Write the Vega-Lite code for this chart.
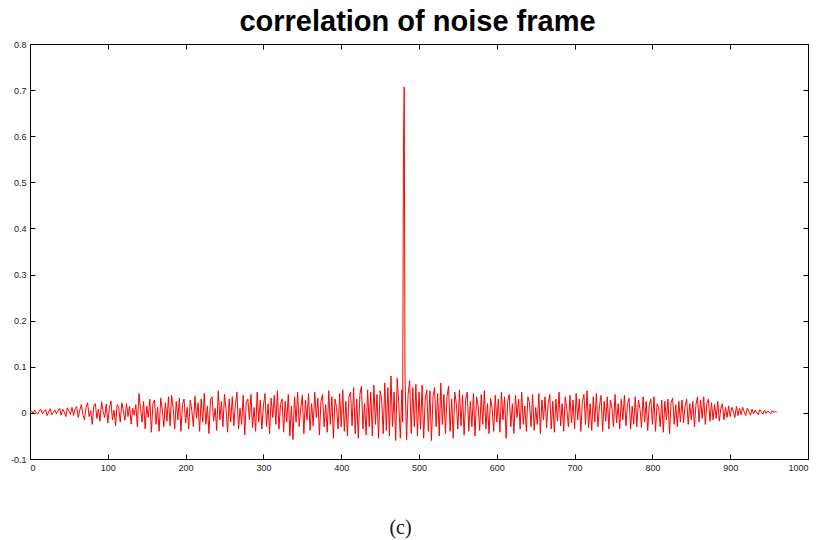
{
  "$schema": "https://vega.github.io/schema/vega-lite/v6.json",
  "width": 778,
  "height": 415,
  "autosize": "none",
  "padding": {"left": 30, "top": 44, "right": 12, "bottom": 81},
  "background": "white",
  "config": {
    "view": {"stroke": null},
    "axis": {"grid": false, "domainColor": "black", "domainWidth": 1, "tickColor": "black", "tickSize": -5, "labelFont": "Liberation Sans", "labelFontSize": 9, "labelColor": "#222", "labelPadding": 9}
  },
  "datasets": {
    "corr": [
{"x":0,"y":0.002},{"x":2,"y":0.004},{"x":4,"y":-0.001},{"x":6,"y":0.006},{"x":8,"y":0.001},{"x":10,"y":-0.003},{"x":12,"y":0.005},{"x":14,"y":0.008},{"x":16,"y":-0.002},{"x":18,"y":0.003},
{"x":20,"y":0.007},{"x":22,"y":-0.006},{"x":24,"y":0.002},{"x":26,"y":0.009},{"x":28,"y":-0.004},{"x":30,"y":0.001},{"x":32,"y":0.006},{"x":34,"y":-0.002},{"x":36,"y":0.004},{"x":38,"y":0.010},
{"x":40,"y":-0.005},{"x":42,"y":0.008},{"x":44,"y":0.002},{"x":46,"y":-0.008},{"x":48,"y":0.011},{"x":50,"y":0.004},{"x":52,"y":-0.003},{"x":54,"y":0.012},{"x":56,"y":-0.006},{"x":58,"y":0.009},
{"x":60,"y":0.014},{"x":62,"y":-0.010},{"x":64,"y":0.006},{"x":66,"y":0.018},{"x":68,"y":-0.004},{"x":70,"y":-0.015},{"x":72,"y":0.012},{"x":74,"y":0.022},{"x":76,"y":-0.008},{"x":78,"y":0.005},
{"x":80,"y":-0.025},{"x":82,"y":0.015},{"x":84,"y":0.020},{"x":86,"y":-0.012},{"x":88,"y":0.008},{"x":90,"y":-0.018},{"x":92,"y":0.024},{"x":94,"y":0.003},{"x":96,"y":-0.010},{"x":98,"y":0.019},
{"x":100,"y":-0.022},{"x":102,"y":0.010},{"x":104,"y":0.026},{"x":106,"y":-0.015},{"x":108,"y":0.006},{"x":110,"y":-0.028},{"x":112,"y":0.018},{"x":114,"y":0.012},{"x":116,"y":-0.020},{"x":118,"y":0.022},
{"x":120,"y":0.005},{"x":122,"y":-0.016},{"x":124,"y":0.020},{"x":126,"y":-0.008},{"x":128,"y":0.015},{"x":130,"y":-0.024},{"x":132,"y":0.010},{"x":134,"y":-0.005},{"x":136,"y":0.018},{"x":138,"y":-0.030},
{"x":140,"y":0.042},{"x":142,"y":0.010},{"x":144,"y":-0.020},{"x":146,"y":0.025},{"x":148,"y":-0.035},{"x":150,"y":0.015},{"x":152,"y":-0.010},{"x":154,"y":0.030},{"x":156,"y":-0.042},{"x":158,"y":0.020},
{"x":160,"y":0.028},{"x":162,"y":-0.025},{"x":164,"y":0.012},{"x":166,"y":-0.040},{"x":168,"y":0.032},{"x":170,"y":0.008},{"x":172,"y":-0.030},{"x":174,"y":0.022},{"x":176,"y":-0.018},{"x":178,"y":0.035},
{"x":180,"y":-0.028},{"x":182,"y":0.038},{"x":184,"y":0.010},{"x":186,"y":-0.035},{"x":188,"y":0.025},{"x":190,"y":-0.015},{"x":192,"y":0.032},{"x":194,"y":-0.040},{"x":196,"y":0.018},{"x":198,"y":0.030},
{"x":200,"y":-0.022},{"x":202,"y":0.012},{"x":204,"y":-0.035},{"x":206,"y":0.028},{"x":208,"y":0.005},{"x":210,"y":-0.030},{"x":212,"y":0.036},{"x":214,"y":-0.012},{"x":216,"y":0.022},{"x":218,"y":-0.040},
{"x":220,"y":0.030},{"x":222,"y":-0.020},{"x":224,"y":0.042},{"x":226,"y":-0.025},{"x":228,"y":0.015},{"x":230,"y":-0.045},{"x":232,"y":0.028},{"x":234,"y":0.035},{"x":236,"y":-0.018},{"x":238,"y":0.010},
{"x":240,"y":-0.038},{"x":242,"y":0.048},{"x":244,"y":-0.015},{"x":246,"y":0.025},{"x":248,"y":-0.030},{"x":250,"y":0.040},{"x":252,"y":0.008},{"x":254,"y":-0.042},{"x":256,"y":0.030},{"x":258,"y":-0.020},
{"x":260,"y":0.035},{"x":262,"y":-0.028},{"x":264,"y":0.018},{"x":266,"y":0.045},{"x":268,"y":-0.035},{"x":270,"y":0.010},{"x":272,"y":-0.025},{"x":274,"y":0.038},{"x":276,"y":-0.048},{"x":278,"y":0.022},
{"x":280,"y":0.030},{"x":282,"y":-0.015},{"x":284,"y":0.040},{"x":286,"y":-0.032},{"x":288,"y":0.012},{"x":290,"y":-0.040},{"x":292,"y":0.045},{"x":294,"y":-0.020},{"x":296,"y":0.028},{"x":298,"y":-0.035},
{"x":300,"y":0.015},{"x":302,"y":0.042},{"x":304,"y":-0.030},{"x":306,"y":0.020},{"x":308,"y":-0.045},{"x":310,"y":0.032},{"x":312,"y":-0.010},{"x":314,"y":0.038},{"x":316,"y":-0.025},{"x":318,"y":0.048},
{"x":320,"y":-0.035},{"x":322,"y":0.018},{"x":324,"y":0.030},{"x":326,"y":-0.042},{"x":328,"y":0.025},{"x":330,"y":-0.020},{"x":332,"y":0.040},{"x":334,"y":-0.050},{"x":336,"y":0.015},{"x":338,"y":-0.058},
{"x":340,"y":0.035},{"x":342,"y":-0.020},{"x":344,"y":0.045},{"x":346,"y":-0.030},{"x":348,"y":0.010},{"x":350,"y":0.038},{"x":352,"y":-0.045},{"x":354,"y":0.028},{"x":356,"y":-0.015},{"x":358,"y":0.042},
{"x":360,"y":-0.038},{"x":362,"y":0.020},{"x":364,"y":-0.028},{"x":366,"y":0.045},{"x":368,"y":-0.010},{"x":370,"y":0.032},{"x":372,"y":-0.048},{"x":374,"y":0.025},{"x":376,"y":0.040},{"x":378,"y":-0.030},
{"x":380,"y":0.018},{"x":382,"y":-0.042},{"x":384,"y":0.048},{"x":386,"y":-0.025},{"x":388,"y":0.035},{"x":390,"y":-0.055},{"x":392,"y":0.030},{"x":394,"y":0.012},{"x":396,"y":-0.035},{"x":398,"y":0.042},
{"x":400,"y":-0.030},{"x":402,"y":0.050},{"x":404,"y":-0.040},{"x":406,"y":0.025},{"x":408,"y":-0.050},{"x":410,"y":0.035},{"x":412,"y":0.045},{"x":414,"y":-0.028},{"x":416,"y":0.055},{"x":418,"y":-0.045},
{"x":420,"y":0.030},{"x":422,"y":-0.055},{"x":424,"y":0.040},{"x":426,"y":0.058},{"x":428,"y":-0.035},{"x":430,"y":0.020},{"x":432,"y":-0.048},{"x":434,"y":0.050},{"x":436,"y":-0.030},{"x":438,"y":0.045},
{"x":440,"y":-0.050},{"x":442,"y":0.060},{"x":444,"y":-0.025},{"x":446,"y":0.040},{"x":448,"y":-0.055},{"x":450,"y":0.048},{"x":452,"y":0.030},{"x":454,"y":-0.045},{"x":456,"y":0.065},{"x":458,"y":-0.038},
{"x":460,"y":0.055},{"x":462,"y":-0.050},{"x":464,"y":0.080},{"x":466,"y":-0.030},{"x":468,"y":0.045},{"x":470,"y":-0.060},{"x":472,"y":0.075},{"x":474,"y":0.020},{"x":476,"y":-0.055},{"x":478,"y":0.050},
{"x":479,"y":-0.020},{"x":480,"y":0.570},{"x":481,"y":0.707},
{"x":482,"y":0.078},{"x":484,"y":-0.058},{"x":486,"y":0.040},{"x":488,"y":0.070},{"x":490,"y":-0.045},{"x":492,"y":0.055},{"x":494,"y":-0.030},{"x":496,"y":0.062},{"x":498,"y":-0.050},
{"x":500,"y":0.045},{"x":502,"y":-0.035},{"x":504,"y":0.060},{"x":506,"y":-0.055},{"x":508,"y":0.030},{"x":510,"y":0.050},{"x":512,"y":-0.040},{"x":514,"y":0.048},{"x":516,"y":-0.060},{"x":518,"y":0.035},
{"x":520,"y":0.055},{"x":522,"y":-0.030},{"x":524,"y":0.042},{"x":526,"y":-0.050},{"x":528,"y":0.065},{"x":530,"y":-0.025},{"x":532,"y":0.040},{"x":534,"y":-0.045},{"x":536,"y":0.035},{"x":538,"y":0.058},
{"x":540,"y":-0.040},{"x":542,"y":0.030},{"x":544,"y":-0.055},{"x":546,"y":0.045},{"x":548,"y":0.020},{"x":550,"y":-0.035},{"x":552,"y":0.050},{"x":554,"y":-0.028},{"x":556,"y":0.038},{"x":558,"y":-0.048},
{"x":560,"y":0.030},{"x":562,"y":0.045},{"x":564,"y":-0.040},{"x":566,"y":0.025},{"x":568,"y":-0.030},{"x":570,"y":0.042},{"x":572,"y":-0.050},{"x":574,"y":0.035},{"x":576,"y":0.015},{"x":578,"y":-0.038},
{"x":580,"y":0.040},{"x":582,"y":-0.025},{"x":584,"y":0.048},{"x":586,"y":-0.035},{"x":588,"y":0.020},{"x":590,"y":-0.045},{"x":592,"y":0.032},{"x":594,"y":0.010},{"x":596,"y":-0.040},{"x":598,"y":0.038},
{"x":600,"y":-0.020},{"x":602,"y":0.030},{"x":604,"y":-0.042},{"x":606,"y":0.045},{"x":608,"y":-0.015},{"x":610,"y":0.035},{"x":612,"y":-0.055},{"x":614,"y":0.025},{"x":616,"y":0.040},{"x":618,"y":-0.030},
{"x":620,"y":0.020},{"x":622,"y":-0.045},{"x":624,"y":0.038},{"x":626,"y":-0.010},{"x":628,"y":0.030},{"x":630,"y":-0.035},{"x":632,"y":0.045},{"x":634,"y":-0.025},{"x":636,"y":0.015},{"x":638,"y":-0.040},
{"x":640,"y":0.035},{"x":642,"y":0.022},{"x":644,"y":-0.030},{"x":646,"y":0.040},{"x":648,"y":-0.038},{"x":650,"y":0.012},{"x":652,"y":-0.025},{"x":654,"y":0.042},{"x":656,"y":-0.045},{"x":658,"y":0.028},
{"x":660,"y":-0.015},{"x":662,"y":0.035},{"x":664,"y":-0.032},{"x":666,"y":0.020},{"x":668,"y":0.040},{"x":670,"y":-0.035},{"x":672,"y":0.025},{"x":674,"y":-0.042},{"x":676,"y":0.030},{"x":678,"y":-0.018},
{"x":680,"y":0.045},{"x":682,"y":-0.028},{"x":684,"y":0.020},{"x":686,"y":-0.040},{"x":688,"y":0.035},{"x":690,"y":0.008},{"x":692,"y":-0.030},{"x":694,"y":0.038},{"x":696,"y":-0.022},{"x":698,"y":0.028},
{"x":700,"y":-0.035},{"x":702,"y":0.042},{"x":704,"y":-0.015},{"x":706,"y":0.030},{"x":708,"y":-0.040},{"x":710,"y":0.025},{"x":712,"y":0.040},{"x":714,"y":-0.025},{"x":716,"y":0.048},{"x":718,"y":-0.032},
{"x":720,"y":0.020},{"x":722,"y":-0.038},{"x":724,"y":0.035},{"x":726,"y":-0.020},{"x":728,"y":0.042},{"x":730,"y":-0.030},{"x":732,"y":0.015},{"x":734,"y":0.038},{"x":736,"y":-0.040},{"x":738,"y":0.025},
{"x":740,"y":-0.018},{"x":742,"y":0.035},{"x":744,"y":-0.035},{"x":746,"y":0.028},{"x":748,"y":0.010},{"x":750,"y":-0.030},{"x":752,"y":0.040},{"x":754,"y":-0.022},{"x":756,"y":0.020},{"x":758,"y":-0.035},
{"x":760,"y":0.030},{"x":762,"y":-0.015},{"x":764,"y":0.038},{"x":766,"y":-0.028},{"x":768,"y":0.020},{"x":770,"y":0.032},{"x":772,"y":-0.035},{"x":774,"y":0.015},{"x":776,"y":-0.025},{"x":778,"y":0.035},
{"x":780,"y":-0.030},{"x":782,"y":0.028},{"x":784,"y":0.010},{"x":786,"y":-0.032},{"x":788,"y":0.035},{"x":790,"y":-0.020},{"x":792,"y":0.025},{"x":794,"y":-0.038},{"x":796,"y":0.018},{"x":798,"y":0.030},
{"x":800,"y":-0.025},{"x":802,"y":0.035},{"x":804,"y":-0.040},{"x":806,"y":0.020},{"x":808,"y":0.012},{"x":810,"y":-0.030},{"x":812,"y":0.028},{"x":814,"y":-0.042},{"x":816,"y":0.025},{"x":818,"y":-0.015},
{"x":820,"y":0.030},{"x":822,"y":-0.045},{"x":824,"y":0.022},{"x":826,"y":0.032},{"x":828,"y":-0.025},{"x":830,"y":0.018},{"x":832,"y":-0.030},{"x":834,"y":0.025},{"x":836,"y":-0.020},{"x":838,"y":0.028},
{"x":840,"y":-0.022},{"x":842,"y":0.015},{"x":844,"y":0.030},{"x":846,"y":-0.025},{"x":848,"y":0.020},{"x":850,"y":-0.015},{"x":852,"y":0.025},{"x":854,"y":-0.030},{"x":856,"y":0.018},{"x":858,"y":0.035},
{"x":860,"y":-0.020},{"x":862,"y":0.028},{"x":864,"y":-0.012},{"x":866,"y":0.035},{"x":868,"y":-0.025},{"x":870,"y":0.020},{"x":872,"y":0.030},{"x":874,"y":-0.018},{"x":876,"y":0.022},{"x":878,"y":-0.015},
{"x":880,"y":0.018},{"x":882,"y":-0.012},{"x":884,"y":0.025},{"x":886,"y":-0.018},{"x":888,"y":0.010},{"x":890,"y":0.020},{"x":892,"y":-0.015},{"x":894,"y":0.012},{"x":896,"y":-0.010},{"x":898,"y":0.015},
{"x":900,"y":-0.008},{"x":902,"y":0.012},{"x":904,"y":0.004},{"x":906,"y":-0.010},{"x":908,"y":0.014},{"x":910,"y":-0.006},{"x":912,"y":0.010},{"x":914,"y":-0.004},{"x":916,"y":0.012},{"x":918,"y":0.002},
{"x":920,"y":-0.006},{"x":922,"y":0.010},{"x":924,"y":0.003},{"x":926,"y":-0.005},{"x":928,"y":0.008},{"x":930,"y":-0.002},{"x":932,"y":0.006},{"x":934,"y":0.001},{"x":936,"y":-0.004},{"x":938,"y":0.007},
{"x":940,"y":0.002},{"x":942,"y":-0.003},{"x":944,"y":0.006},{"x":946,"y":-0.001},{"x":948,"y":0.004},{"x":950,"y":0.002},{"x":952,"y":-0.002},{"x":954,"y":0.005},{"x":956,"y":0.001},{"x":958,"y":0.003},
{"x":960,"y":0.002}
    ]
  },
  "data": {"name": "corr"},
  "layer": [
    {
      "mark": {"type": "line", "color": "#ff0000", "strokeWidth": 1, "clip": true},
      "encoding": {
        "x": {"field": "x", "type": "quantitative", "scale": {"domain": [0, 1000], "nice": false, "zero": false},
              "axis": {"orient": "bottom", "values": [0,100,200,300,400,500,600,700,800,900,1000], "format": "d", "title": "(c)", "titleFont": "Liberation Serif", "titleFontSize": 20, "titleFontWeight": "normal", "titleColor": "#111", "titleX": 370, "titleY": 68, "titleBaseline": "middle", "titleAnchor": null}},
        "y": {"field": "y", "type": "quantitative", "scale": {"domain": [-0.1, 0.8], "nice": false, "zero": false},
              "axis": {"orient": "left", "values": [-0.1,0,0.1,0.2,0.3,0.4,0.5,0.6,0.7,0.8], "title": null, "labelExpr": "replace(datum.value == 0 ? '0' : format(datum.value, '.1f'), '\u2212', '-')"}}
      }
    },
    {
      "mark": {"type": "line", "opacity": 0, "clip": true},
      "encoding": {
        "x": {"field": "x", "type": "quantitative", "scale": {"domain": [0, 1000], "nice": false, "zero": false},
              "axis": {"orient": "top", "values": [0,100,200,300,400,500,600,700,800,900,1000], "labels": false, "title": "correlation of noise frame", "titleFont": "Liberation Sans", "titleFontSize": 29, "titleFontWeight": "bold", "titleColor": "black", "titleX": 387, "titleY": -14, "titleBaseline": "alphabetic", "titleAlign": "center", "titleAnchor": null}},
        "y": {"field": "y", "type": "quantitative", "scale": {"domain": [-0.1, 0.8], "nice": false, "zero": false},
              "axis": {"orient": "right", "values": [-0.1,0,0.1,0.2,0.3,0.4,0.5,0.6,0.7,0.8], "labels": false, "title": null}}
      }
    }
  ],
  "resolve": {"axis": {"x": "independent", "y": "independent"}}
}
